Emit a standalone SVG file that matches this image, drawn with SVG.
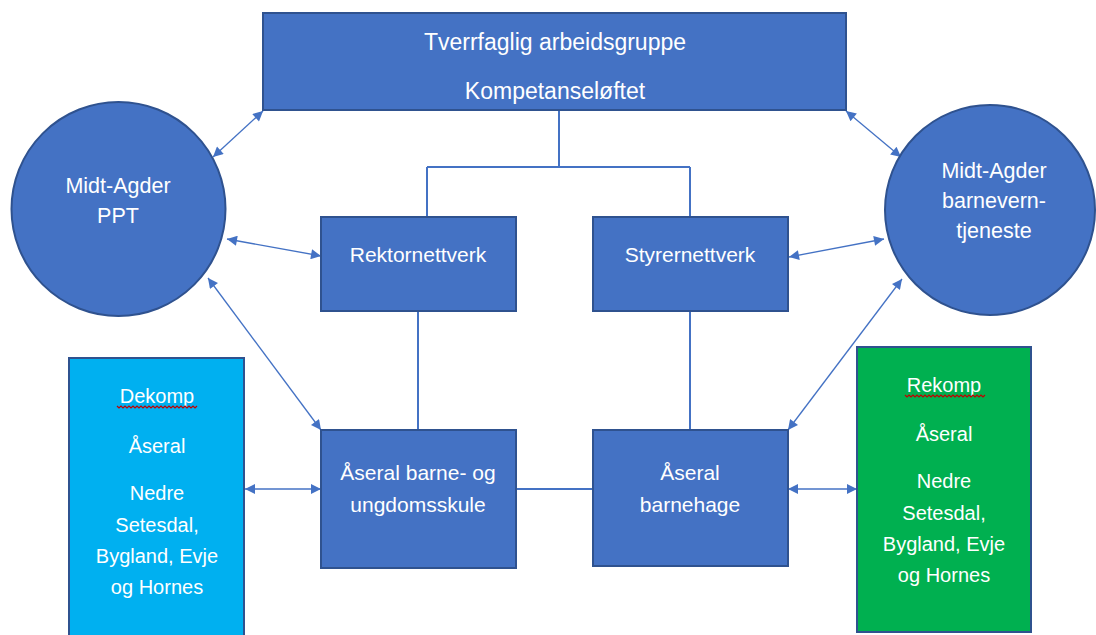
<svg xmlns="http://www.w3.org/2000/svg" width="1096" height="635" viewBox="0 0 1096 635">
<style>
.node{fill:#4472C4;stroke:#2F528F;stroke-width:2}
.dek{fill:#00B0F0;stroke:#2F528F;stroke-width:2}
.rek{fill:#00B050;stroke:#2F528F;stroke-width:2}
.t{fill:#FFFFFF;font-family:"Liberation Sans",Arial,sans-serif;font-size:20px;text-anchor:middle}
.mid{font-size:21px}
.big{font-size:23px}
.circ{font-size:21.5px}
.line{fill:none;stroke:#4472C4;stroke-width:2}
.arr{fill:none;stroke:#4472C4;stroke-width:1.3;marker-start:url(#ah);marker-end:url(#ah)}
.sq{fill:none;stroke:#C00000;stroke-width:1.2}
</style>
<defs>
<marker id="ah" viewBox="0 0 10 10" refX="10" refY="5" markerWidth="11" markerHeight="10" markerUnits="userSpaceOnUse" orient="auto-start-reverse">
<path d="M0,0 L10,5 L0,10 z" fill="#4472C4"/>
</marker>
</defs>
<rect width="1096" height="635" fill="#FFFFFF"/>
<g id="connectors">
<path class="line" d="M559,110 V167 M427,167 H690 M427,167 V217 M690,167 V217"/>
<path class="line" d="M418,311 V430 M690,311 V430 M516,489 H593"/>
<path class="arr" d="M213,157 L263,111"/>
<path class="arr" d="M227,239 L321,256"/>
<path class="arr" d="M208,278 L321,430"/>
<path class="arr" d="M846,111 L901,157"/>
<path class="arr" d="M789,257 L884,239"/>
<path class="arr" d="M902,279 L788,430"/>
<path class="arr" d="M245,489 L321,489"/>
<path class="arr" d="M788,489 L857,489"/>
</g>
<g id="node-top">
<rect class="node" x="263" y="13" width="583" height="97"/>
<text class="t big" x="555" y="50">Tverrfaglig arbeidsgruppe</text>
<text class="t big" x="555" y="99">Kompetanseløftet</text>
</g>
<g id="node-ppt">
<circle class="node" cx="118.5" cy="209" r="107"/>
<text class="t circ" x="118" y="193">Midt-Agder</text>
<text class="t circ" x="118" y="223">PPT</text>
</g>
<g id="node-barnevern">
<circle class="node" cx="990" cy="210" r="105"/>
<text class="t circ" x="994" y="178">Midt-Agder</text>
<text class="t circ" x="994" y="208">barnevern-</text>
<text class="t circ" x="994" y="238">tjeneste</text>
</g>
<g id="node-rektor">
<rect class="node" x="321" y="217" width="195" height="94"/>
<text class="t mid" x="418" y="262">Rektornettverk</text>
</g>
<g id="node-styrer">
<rect class="node" x="593" y="217" width="195" height="94"/>
<text class="t mid" x="690" y="262">Styrernettverk</text>
</g>
<g id="node-skule">
<rect class="node" x="321" y="430" width="195" height="138"/>
<text class="t mid" x="418" y="480">Åseral barne- og</text>
<text class="t mid" x="418" y="512">ungdomsskule</text>
</g>
<g id="node-barnehage">
<rect class="node" x="593" y="430" width="195" height="136"/>
<text class="t mid" x="690" y="480">Åseral</text>
<text class="t mid" x="690" y="512">barnehage</text>
</g>
<g id="node-dekomp">
<rect class="dek" x="69" y="358" width="175" height="285"/>
<text class="t" x="157" y="403">Dekomp</text>
<path class="sq" d="M117,406 l2,2 l2,-2 l2,2 l2,-2 l2,2 l2,-2 l2,2 l2,-2 l2,2 l2,-2 l2,2 l2,-2 l2,2 l2,-2 l2,2 l2,-2 l2,2 l2,-2 l2,2 l2,-2 l2,2 l2,-2 l2,2 l2,-2 l2,2 l2,-2 l2,2 l2,-2 l2,2 l2,-2 l2,2 l2,-2 l2,2 l2,-2 l2,2 l2,-2 l2,2 l2,-2 l2,2 l2,-2"/>
<text class="t" x="157" y="453">Åseral</text>
<text class="t" x="157" y="500">Nedre</text>
<text class="t" x="157" y="532">Setesdal,</text>
<text class="t" x="157" y="563">Bygland, Evje</text>
<text class="t" x="157" y="594">og Hornes</text>
</g>
<g id="node-rekomp">
<rect class="rek" x="857" y="347" width="174" height="285"/>
<text class="t" x="944" y="392">Rekomp</text>
<path class="sq" d="M905,395 l2,2 l2,-2 l2,2 l2,-2 l2,2 l2,-2 l2,2 l2,-2 l2,2 l2,-2 l2,2 l2,-2 l2,2 l2,-2 l2,2 l2,-2 l2,2 l2,-2 l2,2 l2,-2 l2,2 l2,-2 l2,2 l2,-2 l2,2 l2,-2 l2,2 l2,-2 l2,2 l2,-2 l2,2 l2,-2 l2,2 l2,-2 l2,2 l2,-2 l2,2 l2,-2 l2,2 l2,-2"/>
<text class="t" x="944" y="441">Åseral</text>
<text class="t" x="944" y="488">Nedre</text>
<text class="t" x="944" y="520">Setesdal,</text>
<text class="t" x="944" y="551">Bygland, Evje</text>
<text class="t" x="944" y="582">og Hornes</text>
</g>
</svg>
